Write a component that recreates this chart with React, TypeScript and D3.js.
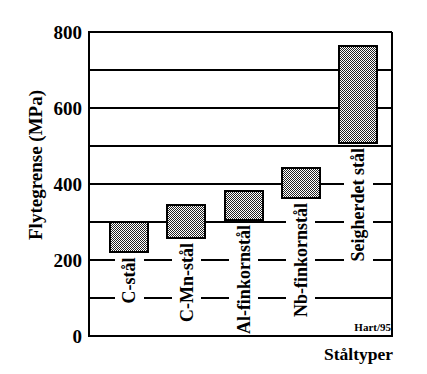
import React, { useEffect, useRef } from "react";
import * as d3 from "d3";

const categories = ["C-stål", "C-Mn-stål", "Al-finkornstål", "Nb-finkornstål", "Seigherdet stål"];
const lowValues = [220, 258, 305, 363, 508];
const highValues = [300, 345, 382, 442, 763];
const tickValues = [0, 200, 400, 600, 800];
const gridValues = [100, 200, 300, 400, 500, 600, 700];

const W = 427;
const H = 374;
const FONT = "'Liberation Serif', 'Times New Roman', serif";

export default function App() {
  const ref = useRef<SVGSVGElement | null>(null);

  useEffect(() => {
    const svg = d3.select(ref.current);
    svg.selectAll("*").remove();

    const left = 89, right = 392, top = 32, bottom = 336;
    const y = d3.scaleLinear().domain([0, 800]).range([bottom, top]);
    const x = d3.scalePoint<string>().domain(categories).range([129, 358]);
    const barW = 38;

    const defs = svg.append("defs");
    const pat = defs.append("pattern").attr("id", "chk").attr("width", 2).attr("height", 2)
      .attr("patternUnits", "userSpaceOnUse");
    pat.append("rect").attr("width", 2).attr("height", 2).attr("fill", "#fff");
    pat.append("rect").attr("x", 0).attr("y", 0).attr("width", 1).attr("height", 1).attr("fill", "#222");
    pat.append("rect").attr("x", 1).attr("y", 1).attr("width", 1).attr("height", 1).attr("fill", "#222");

    svg.append("rect").attr("width", W).attr("height", H).attr("fill", "#fff");

    // gridlines
    svg.append("g").selectAll("line").data(gridValues).join("line")
      .attr("x1", left).attr("x2", right)
      .attr("y1", (d) => y(d)).attr("y2", (d) => y(d))
      .attr("stroke", "#000").attr("stroke-width", 1.8);

    const bgLayer = svg.append("g");
    const barLayer = svg.append("g");
    const labelLayer = svg.append("g");

    categories.forEach((c, i) => {
      const cx = x(c) as number;
      barLayer.append("rect")
        .attr("x", cx - barW / 2).attr("width", barW)
        .attr("y", y(highValues[i])).attr("height", y(lowValues[i]) - y(highValues[i]))
        .attr("fill", "url(#chk)").attr("stroke", "#000").attr("stroke-width", 2);

      const oy = y(lowValues[i]) + 5;
      const t = labelLayer.append("text")
        .attr("transform", `translate(${cx},${oy}) rotate(-90)`)
        .attr("text-anchor", "end").attr("dy", "0.35em")
        .attr("font-family", FONT).attr("font-weight", "bold").attr("font-size", 18)
        .attr("fill", "#000").text(c);
      const len = (t.node() as SVGTextElement).getComputedTextLength();
      bgLayer.append("rect")
        .attr("x", cx - 14.5).attr("width", 29)
        .attr("y", oy - 1).attr("height", len + 6)
        .attr("fill", "#fff");
    });

    // frame
    const frame = svg.append("g").attr("stroke", "#000").attr("fill", "none");
    frame.append("line").attr("x1", left).attr("x2", right).attr("y1", top).attr("y2", top).attr("stroke-width", 1.8);
    frame.append("line").attr("x1", right).attr("x2", right).attr("y1", top).attr("y2", bottom).attr("stroke-width", 1.5);
    frame.append("line").attr("x1", left).attr("x2", left).attr("y1", top - 1).attr("y2", bottom + 1).attr("stroke-width", 2.2);
    frame.append("line").attr("x1", left - 1).attr("x2", right + 1).attr("y1", bottom).attr("y2", bottom).attr("stroke-width", 2.2);

    // tick labels
    svg.append("g").selectAll("text").data(tickValues).join("text")
      .attr("x", left - 7).attr("y", (d) => y(d)).attr("dy", "0.35em")
      .attr("text-anchor", "end")
      .attr("font-family", FONT).attr("font-weight", "bold").attr("font-size", 19)
      .text((d) => String(d));

    svg.append("text")
      .attr("transform", `translate(35,165) rotate(-90)`)
      .attr("text-anchor", "middle").attr("dy", "0.35em")
      .attr("font-family", FONT).attr("font-weight", "bold").attr("font-size", 19)
      .text("Flytegrense (MPa)");

    svg.append("text")
      .attr("x", 393).attr("y", 360).attr("text-anchor", "end")
      .attr("font-family", FONT).attr("font-weight", "bold").attr("font-size", 17.5)
      .text("Ståltyper");

    svg.append("text")
      .attr("x", 391).attr("y", 331).attr("text-anchor", "end")
      .attr("font-family", FONT).attr("font-weight", "bold").attr("font-size", 11)
      .text("Hart/95");
  }, []);

  return (
    <div style={{ position: "absolute", left: 0, top: 0 }}>
      <svg ref={ref} width={W} height={H} style={{ display: "block" }} shapeRendering="crispEdges" />
    </div>
  );
}
